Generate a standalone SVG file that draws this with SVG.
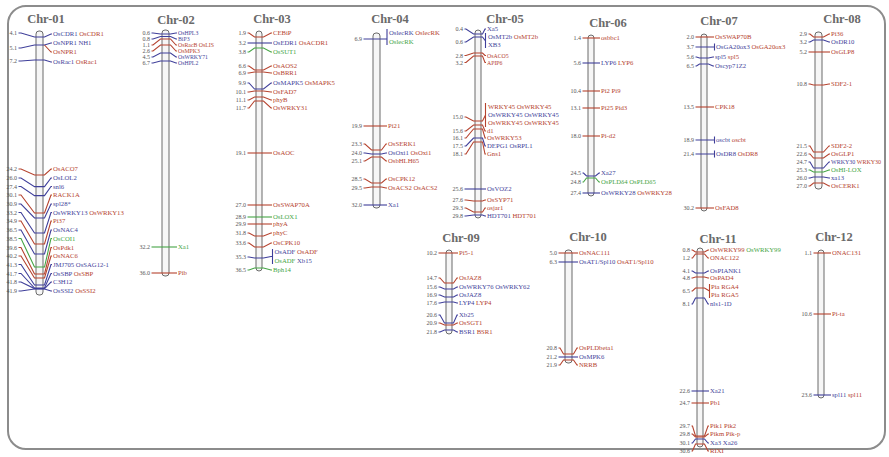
<svg xmlns="http://www.w3.org/2000/svg" width="889" height="457" viewBox="0 0 889 457">
<style>
.t{font:bold 12.5px "Liberation Serif",serif;fill:#6a6a6a;text-anchor:middle}
.n{font:6px "Liberation Serif",serif;fill:#555;text-anchor:end}
.g{font:6.7px "Liberation Serif",serif}
.s{font-size:5.8px}
.r{fill:#b5432f}.b{fill:#3f3f9a}.e{fill:#45a545}
.bar{fill:#f6f6f6;stroke:#6b6b6b;stroke-width:1}
#connectors path{fill:none;stroke-width:1.1}
#connectors .lr{stroke:#b5432f}#connectors .lb{stroke:#3f3f9a}#connectors .le{stroke:#45a545}
</style>
<rect x="8" y="6" width="877" height="443" rx="18" fill="#fff" stroke="#8c8c8c" stroke-width="2"/>

<g id="chr01">
<rect class="bar" x="36" y="31" width="7" height="264" rx="3"/>
<text class="t" x="46" y="23">Chr-01</text>
<g class="n">
<text x="17" y="35.1">4.1</text><text x="17" y="50.1">5.1</text><text x="17" y="63.1">7.2</text>
<text x="17" y="171.1">24.2</text><text x="17" y="180.1">26.0</text><text x="17" y="188.6">27.4</text><text x="17" y="197.1">30.1</text><text x="17" y="206.1">30.9</text><text x="17" y="214.6">33.2</text><text x="17" y="223.1">34.9</text><text x="17" y="232.1">36.5</text><text x="17" y="240.6">38.5</text><text x="17" y="249.6">39.6</text><text x="17" y="258.1">40.2</text><text x="17" y="266.6">41.3</text><text x="17" y="275.6">41.7</text><text x="17" y="284.1">41.8</text><text x="17" y="293.1">41.9</text>
</g>
<g class="g">
<text x="53" y="36.4"><tspan class="b">OsCDR1</tspan><tspan class="r"> OsCDR1</tspan></text>
<text x="53" y="45.4" class="b">OsNPR1 NH1</text>
<text x="53" y="54.4" class="r">OsNPR1</text>
<text x="53" y="64.4"><tspan class="b">OsRac1</tspan><tspan class="r"> OsRac1</tspan></text>
<text x="53" y="171.4" class="r">OsACO7</text>
<text x="53" y="180.4" class="b">OsLOL2</text>
<text x="53" y="188.9" class="b">snl6</text>
<text x="53" y="197.4" class="r">RACK1A</text>
<text x="53" y="206.4" class="b">spl28*</text>
<text x="53" y="214.9"><tspan class="b">OsWRKY13</tspan><tspan class="r"> OsWRKY13</tspan></text>
<text x="53" y="223.4" class="r">Pi37</text>
<text x="53" y="232.4" class="b">OsNAC4</text>
<text x="53" y="240.9" class="e">OsCOI1</text>
<text x="53" y="249.9" class="r">OsPdk1</text>
<text x="53" y="258.4" class="r">OsNAC6</text>
<text x="53" y="266.9" class="b">JMJ705 OsSAG12-1</text>
<text x="53" y="275.9"><tspan class="b">OsSBP</tspan><tspan class="r"> OsSBP</tspan></text>
<text x="53" y="284.4" class="b">C3H12</text>
<text x="53" y="293.4"><tspan class="b">OsSSI2</tspan><tspan class="r"> OsSSI2</tspan></text>
</g>
</g>

<g id="chr02">
<rect class="bar" x="162" y="30" width="7" height="246" rx="3"/>
<text class="t" x="176" y="24">Chr-02</text>
<g class="n">
<text x="150" y="35">0.6</text><text x="150" y="41">0.8</text><text x="150" y="47">1.1</text><text x="150" y="53">2.6</text><text x="150" y="59">4.5</text><text x="150" y="65">6.7</text><text x="150" y="249.1">32.2</text><text x="150" y="275.1">36.0</text>
</g>
<g class="g">
<text x="178" y="35" class="b s">OsHPL3</text>
<text x="178" y="41" class="b s">BiP3</text>
<text x="178" y="47" class="r s">OsRacB OsLIS</text>
<text x="178" y="53" class="r s">OsMPK3</text>
<text x="178" y="59" class="b s">OsWRKY71</text>
<text x="178" y="65" class="b s">OsHPL2</text>
<text x="178" y="249.4" class="e">Xa1</text>
<text x="178" y="275.4" class="r">Pib</text>
</g>
</g>

<g id="chr03">
<rect class="bar" x="256" y="31" width="6" height="240" rx="3"/>
<text class="t" x="272" y="23">Chr-03</text>
<g class="n">
<text x="246" y="35.1">1.9</text><text x="246" y="45.1">3.2</text><text x="246" y="54.1">3.8</text><text x="246" y="68.1">6.6</text><text x="246" y="75.1">6.9</text><text x="246" y="85.1">9.9</text><text x="246" y="94.1">10.1</text><text x="246" y="102.1">11.1</text><text x="246" y="110.1">11.7</text><text x="246" y="155.1">19.1</text><text x="246" y="207.1">27.0</text><text x="246" y="219.1">28.9</text><text x="246" y="226.1">29.9</text><text x="246" y="235.1">31.8</text><text x="246" y="245.1">33.6</text><text x="246" y="259.1">35.3</text><text x="246" y="272.1">36.5</text>
</g>
<g class="g">
<text x="273" y="35.4" class="r">CEBiP</text>
<text x="273" y="45.4"><tspan class="b">OsEDR1</tspan><tspan class="r"> OsACDR1</tspan></text>
<text x="273" y="54.4" class="e">OsSUT1</text>
<text x="273" y="68.4" class="r">OsAOS2</text>
<text x="273" y="75.4" class="r">OsBRR1</text>
<text x="273" y="85.4"><tspan class="b">OsMAPK5</tspan><tspan class="r"> OsMAPK5</tspan></text>
<text x="273" y="94.4" class="r">OsFAD7</text>
<text x="273" y="102.4" class="r">phyB</text>
<text x="273" y="110.4" class="r">OsWRKY31</text>
<text x="273" y="155.4" class="r">OsAOC</text>
<text x="273" y="207.4" class="r">OsSWAP70A</text>
<text x="273" y="219.4" class="e">OsLOX1</text>
<text x="273" y="226.4" class="r">phyA</text>
<text x="273" y="235.4" class="r">phyC</text>
<text x="273" y="245.4" class="r">OsCPK10</text>
<text x="274.5" y="254.4"><tspan class="b">OsADF</tspan><tspan class="r"> OsADF</tspan></text>
<text x="274.5" y="263.4"><tspan class="e">OsADF</tspan><tspan class="b"> Xb15</tspan></text>
<text x="273" y="272.4" class="e">Bph14</text>
</g>
</g>

<g id="chr04">
<rect class="bar" x="373" y="33" width="7" height="175" rx="3"/>
<text class="t" x="390" y="23">Chr-04</text>
<g class="n">
<text x="362" y="41.1">6.9</text><text x="362" y="128.1">19.9</text><text x="362" y="146.1">23.3</text><text x="362" y="155.1">24.0</text><text x="362" y="163.1">25.1</text><text x="362" y="181.1">28.5</text><text x="362" y="190.1">29.5</text><text x="362" y="207.1">32.0</text>
</g>
<g class="g">
<text x="389" y="35.4"><tspan class="b">OslecRK</tspan><tspan class="r"> OslecRK</tspan></text>
<text x="389" y="44.4" class="e">OslecRK</text>
<text x="388" y="128.4" class="r">Pi21</text>
<text x="388" y="146.4" class="r">OsSERK1</text>
<text x="388" y="155.4"><tspan class="b">OsOxi1</tspan><tspan class="r"> OsOxi1</tspan></text>
<text x="388" y="163.4" class="r">OsbHLH65</text>
<text x="388" y="181.4" class="r">OsCPK12</text>
<text x="388" y="190.4" class="r">OsACS2 OsACS2</text>
<text x="388" y="207.4" class="b">Xa1</text>
</g>
</g>

<g id="chr05">
<rect class="bar" x="475" y="30" width="6" height="188" rx="3"/>
<text class="t" x="505" y="23">Chr-05</text>
<g class="n">
<text x="463" y="31.1">0.4</text><text x="463" y="44.1">0.6</text><text x="463" y="57.6">2.8</text><text x="463" y="64.6">3.2</text><text x="463" y="119.1">15.0</text><text x="463" y="133.1">15.6</text><text x="463" y="140.1">16.1</text><text x="463" y="148.1">17.5</text><text x="463" y="156.1">18.1</text><text x="463" y="191.1">25.6</text><text x="463" y="202.1">27.6</text><text x="463" y="210.1">29.3</text><text x="463" y="218.1">29.8</text>
</g>
<g class="g">
<text x="487" y="31.4" class="b">Xa5</text>
<text x="488" y="39.4"><tspan class="b">OsMT2b</tspan><tspan class="r"> OsMT2b</tspan></text>
<text x="488" y="47.4" class="b">XB3</text>
<text x="487" y="57.6" class="r s">OsACO5</text>
<text x="487" y="64.6" class="r s">APIP6</text>
<text x="488" y="109.4" class="r">WRKY45 OsWRKY45</text>
<text x="488" y="117.4" class="b">OsWRKY45 OsWRKY45</text>
<text x="488" y="125.4" class="r">OsWRKY45 OsWRKY45</text>
<text x="487" y="133.4" class="r">d1</text>
<text x="487" y="140.4" class="r">OsWRKY53</text>
<text x="487" y="148.4" class="b">DEPG1 OsRPL1</text>
<text x="487" y="156.4" class="r">Gns1</text>
<text x="487" y="191.4" class="b">OsVOZ2</text>
<text x="487" y="202.4" class="r">OsSYP71</text>
<text x="487" y="210.4" class="r">osjar1</text>
<text x="487" y="218.4"><tspan class="b">HDT701</tspan><tspan class="r"> HDT701</tspan></text>
</g>
</g>

<g id="chr06">
<rect class="bar" x="588" y="35" width="6" height="161" rx="3"/>
<text class="t" x="608" y="27">Chr-06</text>
<g class="n">
<text x="581" y="40.1">1.4</text><text x="581" y="65.1">5.6</text><text x="581" y="93.1">10.4</text><text x="581" y="110.1">13.1</text><text x="581" y="138.1">18.0</text><text x="581" y="175.1">24.5</text><text x="581" y="184.1">24.8</text><text x="581" y="195.1">27.4</text>
</g>
<g class="g">
<text x="601" y="40.4" class="r">osbbc1</text>
<text x="601" y="65.4"><tspan class="b">LYP6</tspan><tspan class="r"> LYP6</tspan></text>
<text x="601" y="93.4" class="r">Pi2 Pi9</text>
<text x="601" y="110.4" class="r">Pi25 Pid3</text>
<text x="601" y="138.4" class="r">Pi-d2</text>
<text x="601" y="175.4" class="b">Xa27</text>
<text x="601" y="184.4" class="e">OsPLDδ4 OsPLDδ5</text>
<text x="601" y="195.4"><tspan class="b">OsWRKY28</tspan><tspan class="r"> OsWRKY28</tspan></text>
</g>
</g>

<g id="chr07">
<rect class="bar" x="701" y="34" width="6" height="177" rx="3"/>
<text class="t" x="719" y="25">Chr-07</text>
<g class="n">
<text x="694" y="39.1">2.0</text><text x="694" y="49.1">3.7</text><text x="694" y="59.1">5.6</text><text x="694" y="68.1">6.5</text><text x="694" y="109.1">13.5</text><text x="694" y="142.1">18.9</text><text x="694" y="156.1">21.4</text><text x="694" y="210.1">30.2</text>
</g>
<g class="g">
<text x="715" y="39.4" class="r">OsSWAP70B</text>
<text x="716" y="49.4"><tspan class="b">OsGA20ox3</tspan><tspan class="r"> OsGA20ox3</tspan></text>
<text x="715" y="59.4"><tspan class="b">spl5</tspan><tspan class="r"> spl5</tspan></text>
<text x="715" y="68.4" class="b">Oscyp71Z2</text>
<text x="715" y="109.4" class="r">CPK18</text>
<text x="716" y="142.4"><tspan class="b">oscbt</tspan><tspan class="r"> oscbt</tspan></text>
<text x="716" y="156.4"><tspan class="b">OsDR8</tspan><tspan class="r"> OsDR8</tspan></text>
<text x="715" y="210.4" class="r">OsFAD8</text>
</g>
</g>

<g id="chr08">
<rect class="bar" x="815" y="32" width="7" height="157" rx="3"/>
<text class="t" x="842" y="23">Chr-08</text>
<g class="n">
<text x="807" y="36.1">2.9</text><text x="807" y="44.1">3.2</text><text x="807" y="54.1">5.2</text><text x="807" y="86.1">10.8</text><text x="807" y="148.1">21.5</text><text x="807" y="156.1">22.6</text><text x="807" y="164.1">24.7</text><text x="807" y="172.1">25.3</text><text x="807" y="180.1">26.0</text><text x="807" y="188.1">27.0</text>
</g>
<g class="g">
<text x="831" y="36.4" class="r">Pi36</text>
<text x="831" y="44.4" class="b">OsDR10</text>
<text x="831" y="54.4" class="r">OsGLP8</text>
<text x="831" y="86.4" class="r">SDF2-1</text>
<text x="831" y="148.4" class="r">SDF2-2</text>
<text x="831" y="156.4" class="r">OsGLP1</text>
<text x="831" y="164.2" style="font-size:6px"><tspan class="b">WRKY30</tspan><tspan class="r"> WRKY30</tspan></text>
<text x="831" y="172.4" class="e">OsHI-LOX</text>
<text x="831" y="180.4" class="b">xa13</text>
<text x="831" y="188.4" class="r">OsCERK1</text>
</g>
</g>

<g id="chr09">
<rect class="bar" x="446" y="250" width="6" height="84" rx="3"/>
<text class="t" x="461" y="242">Chr-09</text>
<g class="n">
<text x="437" y="255.1">10.2</text><text x="437" y="280.1">14.7</text><text x="437" y="289.1">15.6</text><text x="437" y="297.1">16.9</text><text x="437" y="305.1">17.6</text><text x="437" y="317.1">20.6</text><text x="437" y="325.1">20.9</text><text x="437" y="334.1">21.8</text>
</g>
<g class="g">
<text x="459" y="255.4" class="r">Pi5-1</text>
<text x="459" y="280.4" class="r">OsJAZ8</text>
<text x="459" y="289.4" class="b">OsWRKY76 OsWRKY62</text>
<text x="459" y="297.4" class="b">OsJAZ8</text>
<text x="459" y="305.4"><tspan class="b">LYP4</tspan><tspan class="r"> LYP4</tspan></text>
<text x="459" y="317.4" class="b">Xb25</text>
<text x="459" y="325.4" class="r">OsSGT1</text>
<text x="459" y="334.4"><tspan class="b">BSR1</tspan><tspan class="r"> BSR1</tspan></text>
</g>
</g>

<g id="chr10">
<rect class="bar" x="565" y="250" width="7" height="113" rx="3"/>
<text class="t" x="588" y="241">Chr-10</text>
<g class="n">
<text x="557" y="255.1">5.0</text><text x="557" y="264.1">6.3</text><text x="557" y="350.1">20.8</text><text x="557" y="359.1">21.2</text><text x="557" y="367.1">21.9</text>
</g>
<g class="g">
<text x="579" y="255.4" class="r">OsNAC111</text>
<text x="579" y="264.4"><tspan class="b">OsAT1/Spl10</tspan><tspan class="r"> OsAT1/Spl10</tspan></text>
<text x="579" y="350.4" class="r">OsPLDbeta1</text>
<text x="579" y="359.4" class="b">OsMPK6</text>
<text x="579" y="367.4" class="r">NRRB</text>
</g>
</g>

<g id="chr11">
<rect class="bar" x="697" y="248" width="6" height="199" rx="3"/>
<text class="t" x="718" y="243">Chr-11</text>
<g class="n">
<text x="690" y="252.1">0.8</text><text x="690" y="260.1">1.2</text><text x="690" y="273.1">4.1</text><text x="690" y="280.1">4.8</text><text x="690" y="293.1">6.5</text><text x="690" y="306.1">8.1</text><text x="690" y="393.1">22.6</text><text x="690" y="405.1">24.7</text><text x="690" y="428.1">29.7</text><text x="690" y="436.1">29.8</text><text x="690" y="445.1">30.1</text><text x="690" y="453.1">30.6</text>
</g>
<g class="g">
<text x="710" y="252.4"><tspan class="r">OsWRKY99</tspan><tspan class="e"> OsWRKY99</tspan></text>
<text x="710" y="260.4" class="r">ONAC122</text>
<text x="710" y="273.4" class="b">OsPIANK1</text>
<text x="710" y="280.4" class="r">OsPAD4</text>
<text x="711" y="289.4" class="r">Pia RGA4</text>
<text x="711" y="297.4" class="r">Pia RGA5</text>
<text x="710" y="306.4" class="b">nls1-1D</text>
<text x="710" y="393.4" class="b">Xa21</text>
<text x="710" y="405.4" class="r">Pb1</text>
<text x="710" y="428.4" class="r">Pik1 Pik2</text>
<text x="710" y="436.4" class="r">Pikm Pik-p</text>
<text x="710" y="445.4" class="b">Xa3 Xa26</text>
<text x="710" y="453.4" class="r">RIXI</text>
</g>
</g>

<g id="chr12">
<rect class="bar" x="818" y="250" width="6" height="148" rx="3"/>
<text class="t" x="834" y="241">Chr-12</text>
<g class="n">
<text x="812" y="255.1">1.1</text><text x="812" y="316.1">10.6</text><text x="812" y="397.1">23.6</text>
</g>
<g class="g">
<text x="832" y="255.4" class="r">ONAC131</text>
<text x="832" y="316.4" class="r">Pi-ta</text>
<text x="832" y="397.4"><tspan class="b">spl11</tspan><tspan class="r"> spl11</tspan></text>
</g>
</g>

<g id="connectors">
<path class="lb" d="M18.5,33H21L34.5,37H44.5L51,34H52"/>
<path class="lb" d="M18.5,48H21L34.5,45H44.5L51,43H52"/>
<path class="lr" d="M44.5,45L51,52H52"/>
<path class="lb" d="M18.5,61H21L34.5,60H44.5L51,62H52"/>
<path class="lr" d="M18.5,169H21L34.5,175H44.5L51,169H52"/>
<path class="lb" d="M18.5,178H21L34.5,186.6H44.5L51,178H52"/>
<path class="lb" d="M18.5,186.5H21L34.5,195.6H44.5L51,186.5H52"/>
<path class="lr" d="M18.5,195H21L34.5,213H44.5L51,195H52"/>
<path class="lb" d="M18.5,204H21L34.5,218H44.5L51,204H52"/>
<path class="lb" d="M18.5,212.5H21L34.5,233H44.5L51,212.5H52"/>
<path class="lr" d="M18.5,221H21L34.5,244H44.5L51,221H52"/>
<path class="lb" d="M18.5,230H21L34.5,254H44.5L51,230H52"/>
<path class="le" d="M18.5,238.5H21L34.5,267H44.5L51,238.5H52"/>
<path class="lr" d="M18.5,247.5H21L34.5,274H44.5L51,247.5H52"/>
<path class="lr" d="M18.5,256H21L34.5,278H44.5L51,256H52"/>
<path class="lb" d="M18.5,264.5H21L34.5,285H44.5L51,264.5H52"/>
<path class="lb" d="M18.5,273.5H21L34.5,288H44.5L51,273.5H52"/>
<path class="lb" d="M18.5,282H21L34.5,288.6H44.5L51,282H52"/>
<path class="lb" d="M18.5,291H21L34.5,289H44.5L51,291H52"/>

<path class="lb" d="M151.5,33H153L160.5,34H170.5L176,33H177"/>
<path class="lb" d="M151.5,39H153L160.5,36.5H170.5L176,39H177"/>
<path class="lr" d="M151.5,45H153L160.5,39H170.5L176,45H177"/>
<path class="lr" d="M151.5,51H153L160.5,45H170.5L176,51H177"/>
<path class="lb" d="M151.5,57H153L160.5,53H170.5L176,57H177"/>
<path class="lb" d="M151.5,63H153L160.5,61H170.5L176,63H177"/>
<path class="le" d="M151.5,247H177"/>
<path class="lr" d="M151.5,273H177"/>

<path class="lr" d="M247.5,33H249L254.5,37H263.5L271,33H272"/>
<path class="lb" d="M247.5,43H272"/>
<path class="le" d="M247.5,52H249L254.5,48H263.5L271,52H272"/>
<path class="lr" d="M247.5,66H249L254.5,70H263.5L271,66H272"/>
<path class="lr" d="M247.5,73H249L254.5,72H263.5L271,73H272"/>
<path class="lb" d="M247.5,83H249L254.5,89H263.5L271,83H272"/>
<path class="lr" d="M247.5,92H249L254.5,91H263.5L271,92H272"/>
<path class="lr" d="M247.5,100H249L254.5,97H263.5L271,100H272"/>
<path class="lr" d="M247.5,108H249L254.5,101H263.5L271,108H272"/>
<path class="lr" d="M247.5,153H272"/>
<path class="lr" d="M247.5,205H272"/>
<path class="le" d="M247.5,217H272"/>
<path class="lr" d="M247.5,224H272"/>
<path class="lr" d="M247.5,233H249L254.5,236H263.5L271,233H272"/>
<path class="lr" d="M247.5,243H249L254.5,247H263.5L271,243H272"/>
<path class="lb" d="M247.5,257H249L254.5,258H263.5L271,256.5H272.5M272.5,249V264"/>
<path class="le" d="M247.5,270H249L254.5,268H263.5L271,270H272"/>

<path class="lb" d="M363.5,39H387M387,29V45"/>
<path class="lr" d="M363.5,126H387"/>
<path class="lr" d="M363.5,144H365L371.5,150H381.5L386,144H387"/>
<path class="lb" d="M363.5,153H365L371.5,154H381.5L386,153H387"/>
<path class="lr" d="M363.5,161H365L371.5,157H381.5L386,161H387"/>
<path class="lr" d="M363.5,179H365L371.5,183H381.5L386,179H387"/>
<path class="lr" d="M363.5,188H365L371.5,187H381.5L386,188H387"/>
<path class="lb" d="M363.5,205H387"/>

<path class="lb" d="M464.5,29H466L473.5,34H482.5L485,29H486"/>
<path class="lb" d="M464.5,42H466L473.5,37H482.5L485.5,41M485.5,33V48"/>
<path class="lr" d="M464.5,55.5H466L473.5,53H482.5L485,55.5H486"/>
<path class="lr" d="M464.5,62.5H466L473.5,56H482.5L485,62.5H486"/>
<path class="lr" d="M464.5,117H466L473.5,121H482.5L485.5,115M485.5,103V127"/>
<path class="lr" d="M464.5,131H466L473.5,125H482.5L485,131H486"/>
<path class="lr" d="M464.5,138H466L473.5,129H482.5L485,138H486"/>
<path class="lb" d="M464.5,146H466L473.5,138H482.5L485,146H486"/>
<path class="lr" d="M464.5,154H466L473.5,142H482.5L485,154H486"/>
<path class="lb" d="M464.5,189H486"/>
<path class="lr" d="M464.5,200H466L473.5,201H482.5L485,200H486"/>
<path class="lr" d="M464.5,208H466L473.5,212H482.5L485,208H486"/>
<path class="lb" d="M464.5,216H466L473.5,215H482.5L485,216H486"/>

<path class="lr" d="M582.5,38H600"/>
<path class="lb" d="M582.5,63H600"/>
<path class="lr" d="M582.5,91H600"/>
<path class="lr" d="M582.5,108H600"/>
<path class="lr" d="M582.5,136H600"/>
<path class="lb" d="M582.5,173H583.5L586.5,176H595.5L599,173H600"/>
<path class="le" d="M582.5,182H583.5L586.5,178H595.5L599,182H600"/>
<path class="lb" d="M582.5,193H600"/>

<path class="lr" d="M695.5,37H714"/>
<path class="lb" d="M695.5,47H714M714.5,43.5V50.5"/>
<path class="lb" d="M695.5,57H696.5L699.5,58H708.5L713,57H714"/>
<path class="lb" d="M695.5,66H696.5L699.5,64H708.5L713,66H714"/>
<path class="lr" d="M695.5,107H714"/>
<path class="lb" d="M695.5,140H714M714.5,136.5V143.5"/>
<path class="lb" d="M695.5,154H714M714.5,150.5V157.5"/>
<path class="lr" d="M695.5,208H714"/>

<path class="lr" d="M808.5,34H810L813.5,37H823.5L829,34H830"/>
<path class="lb" d="M808.5,42H810L813.5,40H823.5L829,42H830"/>
<path class="lr" d="M808.5,52H830"/>
<path class="lr" d="M808.5,84H810L813.5,85H823.5L829,84H830"/>
<path class="lr" d="M808.5,146H810L813.5,152H823.5L829,146H830"/>
<path class="lr" d="M808.5,154H810L813.5,158H823.5L829,154H830"/>
<path class="lb" d="M808.5,162H810L813.5,168H823.5L829,162H830"/>
<path class="le" d="M808.5,170H810L813.5,172H823.5L829,170H830"/>
<path class="lb" d="M808.5,178H810L813.5,177H823.5L829,178H830"/>
<path class="lr" d="M808.5,186H810L813.5,183H823.5L829,186H830"/>

<path class="lr" d="M438.5,253H458"/>
<path class="lr" d="M438.5,278H440L444.5,283H453.5L457,278H458"/>
<path class="lb" d="M438.5,287H440L444.5,289H453.5L457,287H458"/>
<path class="lb" d="M438.5,295H440L444.5,297H453.5L457,295H458"/>
<path class="lb" d="M438.5,303H440L444.5,302H453.5L457,303H458"/>
<path class="lb" d="M438.5,315H440L444.5,323H453.5L457,315H458"/>
<path class="lr" d="M438.5,323H440L444.5,325H453.5L457,323H458"/>
<path class="lb" d="M438.5,332H440L444.5,330H453.5L457,332H458"/>

<path class="lr" d="M558.5,253H578"/>
<path class="lb" d="M558.5,262H578"/>
<path class="lr" d="M558.5,348H560L563.5,354H573.5L577,348H578"/>
<path class="lb" d="M558.5,357H578"/>
<path class="lr" d="M558.5,365H560L563.5,360H573.5L577,365H578"/>

<path class="lr" d="M691.5,250H692.5L695.5,252H704.5L708,250H709"/>
<path class="lr" d="M691.5,258H692.5L695.5,254H704.5L708,258H709"/>
<path class="lb" d="M691.5,271H692.5L695.5,273H704.5L708,271H709"/>
<path class="lr" d="M691.5,278H692.5L695.5,277H704.5L708,278H709"/>
<path class="lr" d="M691.5,291H692.5L695.5,288H704.5L709.5,291M709.5,284V298"/>
<path class="lb" d="M691.5,304H692.5L695.5,298H704.5L708,304H709"/>
<path class="lb" d="M691.5,391H709"/>
<path class="lr" d="M691.5,403H709"/>
<path class="lr" d="M691.5,426H692.5L695.5,436H704.5L708,426H709"/>
<path class="lr" d="M691.5,434H692.5L695.5,437H704.5L708,434H709"/>
<path class="lb" d="M691.5,443H692.5L695.5,439H704.5L708,443H709"/>
<path class="lr" d="M691.5,451H692.5L695.5,444H704.5L708,451H709"/>

<path class="lr" d="M813.5,253H831"/>
<path class="lr" d="M813.5,314H831"/>
<path class="lb" d="M813.5,395H831"/>
</g>
</svg>
